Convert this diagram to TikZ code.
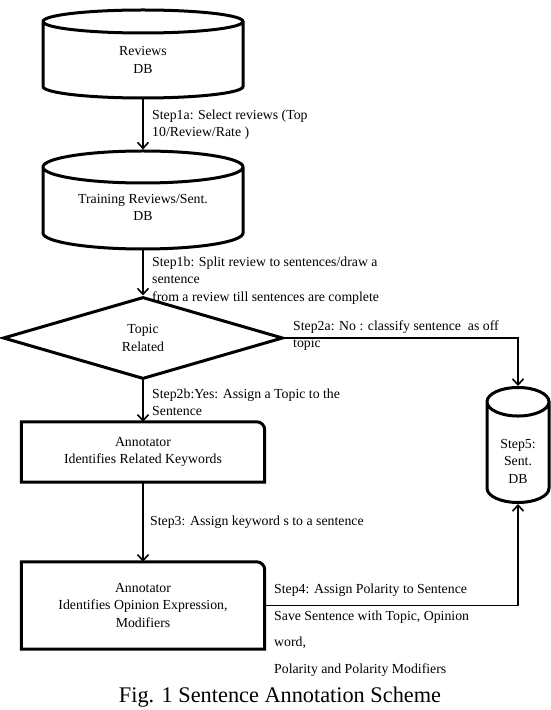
\documentclass[tikz,border=0pt]{standalone}
\usepackage{fontspec}
\setmainfont{Liberation Serif}
\usetikzlibrary{shapes.geometric,arrows.meta,positioning}

\begin{document}
\begin{tikzpicture}[x=1pt, y=1pt,
        every node/.style={font=\fontsize{13.8}{17.5}\selectfont},
        flow/.style={line width=1.8pt, -{Straight Barb[length=6pt,width=11pt,line width=1.6pt]}}]
      \tikzstyle{db} = [cylinder, shape border rotate=90, draw, line width=3pt, inner sep=0pt, anchor=shape center]
      \tikzstyle{dbtext} = [align=center, inner sep=0pt]
      \tikzstyle{annot} = [rectangle, minimum width=243pt, align=center]
      \tikzstyle{steplabel} = [anchor=north west, inner sep=0pt, align=left]
      \useasboundingbox (0,0) rectangle (550,710);
      % stores (the empty box sets the width, aspect the depth of the ends)
      \node (reviews) [db, minimum height=88pt, aspect=0.115] at (143,656) {\hspace*{200pt}};
      \node (training) [db, minimum height=98pt, aspect=0.16] at (143,510) {\hspace*{200pt}};
      \node (sent) [db, minimum height=115pt, aspect=0.46] at (518,265) {\hspace*{62pt}};
      \node (reviewstext) [dbtext] at (143,650) {Reviews\\DB};
      \node (trainingtext) [dbtext] at (143,502.5) {Training Reviews/Sent.\\DB};
      \node (senttext) [dbtext] at (518,249) {Step5:\\Sent.\\DB};
      % decision and annotators
      \node (topic) [diamond, draw, line width=3pt, minimum width=280pt, minimum height=82pt, inner sep=0pt, align=center] at (143,372) {Topic\\Related};
      \node (ann1) [annot, minimum height=60pt] at (143,258) {Annotator\\Identifies Related Keywords};
      \node (ann2) [annot, minimum height=87pt] at (143,104.5) {Annotator\\Identifies Opinion Expression,\\Modifiers};
      \foreach \b in {ann1,ann2}
        \draw[line width=3pt] (\b.south west) -- (\b.north west) -- ([xshift=-8pt]\b.north east)
          arc[start angle=90, end angle=0, radius=8pt] -- (\b.south east) -- cycle;
      % connectors
      \draw[flow] (reviews.south) -- (training.north);
      \draw[flow] (training.south) -- (topic.north);
      \draw[flow, line width=1.4pt] (topic.east) -| (sent.north);
      \draw[flow] (topic.south) -- (ann1.north);
      \draw[flow] (ann1.south) -- (ann2.north);
      \draw[flow, line width=1.4pt] (ann2.east) -| (sent.south);
      % step texts
      \node (s1a) [steplabel] at (152,600.5) {Step1a: Select reviews (Top\\10/Review/Rate )};
      \node (s1b) [steplabel] at (152,453.5) {Step1b: Split review to sentences/draw a\\sentence\\from a review till sentences are complete};
      \node (s2a) [steplabel] at (293,389.5) {Step2a: No : classify sentence\ \ as off\\topic};
      \node (s2b) [steplabel] at (152,321.5) {Step2b:Yes: Assign a Topic to the\\Sentence};
      \node (s3) [steplabel] at (150,194.5) {Step3: Assign keyword s to a sentence};
      \node (s4) [steplabel] at (274,126.5) {Step4: Assign Polarity to Sentence};
      \node (save) [steplabel, font=\fontsize{13.8}{26.5}\selectfont] at (274,99.5) {Save Sentence with Topic, Opinion\\word,\\Polarity and Polarity Modifiers};
      \node (caption) at (280,13) {\fontsize{22.3}{26}\selectfont Fig. 1 Sentence Annotation Scheme};
    \end{tikzpicture}
\end{document}
